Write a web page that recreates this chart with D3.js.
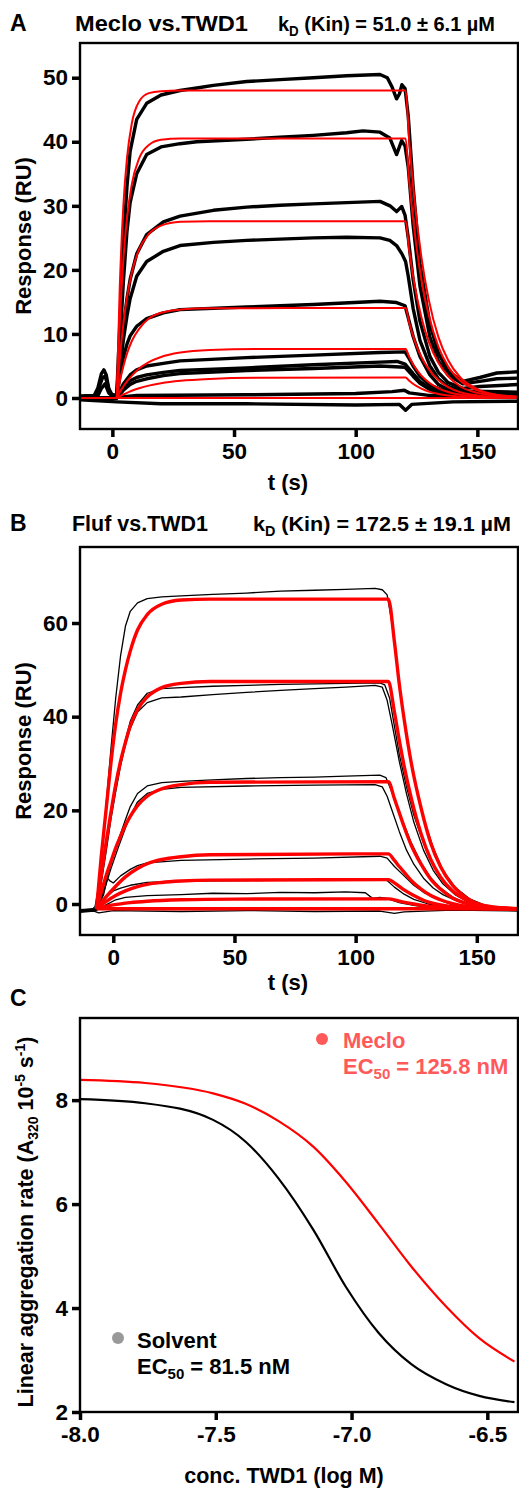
<!DOCTYPE html>
<html>
<head>
<meta charset="utf-8">
<script src="https://cdn.jsdelivr.net/npm/d3@7"></script>
<style>
body { margin: 0; background: #fff; }
svg text { font-family: "Liberation Sans", Arial, sans-serif; font-weight: bold; }
</style>
</head>
<body>
<svg id="fig" width="519" height="1489"></svg>
<script>
// ---- panel A: Meclo vs TWD1, sensorgrams [t (s), response (RU)]
var mecloData = [
	[[-13.3,0.3],[-7.5,0.4],[-6,1.5],[-4.5,3.8],[-3.5,4.4],[-2.5,3.6],[-1.5,1.5],[0,0.4],[1.8,0.5],[3,11],[4.5,24],[6,33],[7.3,38.5],[10,43.5],[14.1,46],[20,47.3],[27.8,48],[34.7,48.4],[41.5,48.8],[55.2,49.4],[68.9,49.7],[82.6,50],[96.3,50.3],[110,50.5],[113,50],[115,48.5],[116.8,46.7],[118,47.5],[119,48.9],[120.3,48.3],[121.6,44],[123.6,33],[126.4,21],[130.5,11.5],[134,7],[138,4.2],[144,2.6],[151,3.2],[158,3.9],[166.7,4.1]],
	[[-13.3,0.1],[-7,0.3],[-5.5,1.6],[-4,3.2],[-3,3.4],[-2,2.2],[-1,0.6],[1.8,0.3],[3,8],[4.5,18],[6,26],[7.3,30.5],[10,35],[14.1,38],[20,39.2],[27.8,39.7],[34.7,40],[55.2,40.4],[68.9,40.7],[82.6,41],[96.3,41.4],[103,41.7],[110,41.5],[114,40.6],[116.8,38],[118.9,40.2],[120.3,39.3],[121.6,36],[123.6,27],[126.4,17.5],[130.5,9.5],[134,5.8],[138,3.6],[144,2.2],[151,2.6],[158,3],[166.7,3.1]],
	[[-13.3,0],[-6,0.3],[-4.5,1.5],[-3,2.2],[-1.5,0.8],[1.8,0.2],[3,5],[4.5,11],[6,15.5],[7.3,18.5],[10,22.5],[14.1,25.5],[20.96,27.5],[27.8,28.4],[41.5,29.3],[55.2,29.8],[68.9,30.1],[82.6,30.3],[96.3,30.5],[110,30.7],[114.1,30],[116.8,29.1],[118.9,29.9],[120.3,28.5],[121.6,25],[123.6,18.5],[126.4,12],[130.5,6.5],[134,4],[138,2.4],[144,1.5],[151,1.8],[166.7,2.1]],
	[[-13.3,0],[1.8,0.1],[3,4],[4.5,9],[6,12.8],[7.3,15.5],[10,19],[14.1,21.3],[20.96,22.9],[27.8,23.8],[41.5,24.3],[55.2,24.6],[68.9,24.8],[82.6,25],[96.3,25.1],[110,25],[114,24.6],[116.8,23.8],[119,22.5],[120.5,21.3],[121.6,19],[123.6,14],[126.4,9],[130.5,5],[134,3],[138,1.8],[144,1.1],[166.7,0.9]],
	[[-13.3,0],[1.8,0],[3,3.2],[4.5,6.3],[6,8.4],[7.3,9.7],[10,11.2],[14.1,12.4],[20.96,13.3],[27.8,13.8],[55.2,14.2],[82.6,14.6],[110,15.1],[116.8,14.9],[120.3,14.4],[121.6,12.5],[123.6,9.6],[126.4,6.5],[130.5,3.6],[134,2.1],[138,1.3],[144,0.8],[166.7,0.7]],
	[[-13.3,0],[1.8,0],[4.5,2.2],[7.3,3.6],[10,4.4],[14.1,5],[20.96,5.4],[27.8,5.8],[55.2,6.3],[82.6,6.7],[110,7.1],[120.3,7.2],[121.6,6.4],[123.6,5],[126.4,3.4],[130.5,2],[138,0.9],[150,0.5],[166.7,0.5]],
	[[-13.3,0],[1.8,0],[4.5,1.6],[7.3,2.7],[10,3.2],[14.1,3.6],[20.96,4],[27.8,4.3],[55.2,4.7],[82.6,5.2],[110,5.6],[117,5.7],[120.3,5.3],[123.6,3.8],[126.4,2.6],[130.5,1.5],[138,0.6],[166.7,0.4]],
	[[-13.3,0],[1.8,0],[4.5,1.2],[7.3,2.1],[10,2.6],[14.1,3],[20.96,3.5],[27.8,3.8],[55.2,4.3],[82.6,4.6],[110,5],[120.3,4.8],[123.6,3.4],[126.4,2.3],[130.5,1.3],[138,0.5],[166.7,0.3]],
	[[-13.3,0],[1.8,0.1],[10,0.4],[55,0.5],[100,0.7],[115,1],[120,1.2],[122,0.8],[130,0.4],[166.7,0.4]],
	[[-13.3,-0.3],[1.8,-0.6],[20,-0.9],[55,-0.9],[100,-1.1],[118,-1],[120.5,-1.9],[123,-1],[140,-0.6],[166.7,-0.5]]
];
var mecloFit = [
	[[1.8,0],[3,16.8],[4.5,29.9],[6,37.4],[8,42.9],[11,46.3],[15,47.6],[20,47.9],[28,48],[120.5,48],[122,40.1],[124,31.5],[127,22],[130,15.4],[134,9.5],[138,5.9],[143,3.2],[150,1.4],[158,0.5],[166.7,0.2]],
	[[1.8,0],[3,11.5],[4.5,21.5],[6,28],[8,33.4],[11,37.4],[15,39.5],[20,40.3],[28,40.5],[120.5,40.5],[122,33.8],[124,26.6],[127,18.5],[130,13],[134,8],[138,4.9],[143,2.7],[150,1.2],[158,0.45],[166.7,0.16]],
	[[1.8,0],[3,5.9],[4.5,11.5],[6,15.7],[8,19.6],[11,23.2],[15,25.6],[20,26.9],[28,27.5],[40,27.6],[120.5,27.6],[122,23],[124,18.1],[127,12.6],[130,8.8],[134,5.5],[138,3.4],[143,1.8],[150,0.8],[158,0.3],[166.7,0.1]],
	[[1.8,0],[3,2.5],[4.5,4.9],[6,6.9],[8,8.9],[11,10.8],[15,12.4],[20,13.3],[28,13.8],[40,14],[120.5,14.05],[122,11.7],[124,9.2],[127,6.4],[130,4.5],[134,2.8],[138,1.7],[143,0.9],[150,0.4],[158,0.15],[166.7,0.06]],
	[[1.8,0],[3,0.86],[4.5,1.8],[6,2.6],[8,3.5],[11,4.6],[15,5.6],[20,6.4],[28,7.1],[40,7.5],[60,7.65],[120.5,7.65],[122,6.4],[124,5],[127,3.5],[130,2.45],[134,1.5],[138,0.93],[143,0.5],[150,0.22],[158,0.08],[166.7,0.03]],
	[[1.8,0],[3,0.26],[4.5,0.55],[6,0.81],[8,1.13],[11,1.52],[15,1.93],[20,2.3],[28,2.69],[40,2.98],[60,3.15],[120.5,3.2],[122,2.7],[124,2.1],[127,1.47],[130,1],[134,0.63],[138,0.39],[143,0.21],[150,0.09],[158,0.04],[166.7,0.01]],
	[[-13.3,0],[166.7,0]]
];

// ---- panel B: Fluf vs TWD1
var flufData = [
	[[-13.7,-1.5],[-11,-1.2],[-9,-1.3],[-7.5,-0.5],[-6,4],[-4.5,12],[-3,21],[-1,33],[1,44],[3,53],[5,59.3],[7,62.5],[10,64.3],[14,65.2],[20,65.6],[28,65.8],[41,66.1],[55,66.4],[69,66.8],[83,67],[96,67.2],[108,67.4],[111,67.1],[113,66],[115,60],[117,51],[119,43],[121,36],[124,27.5],[128,18.5],[132,12],[136,7.2],[141,3.6],[147,1.1],[153,-0.2],[160,-0.8],[167,-1.2]],
	[[-13.7,-1.3],[-7,-1],[-5,5],[-3,12],[-1,19],[1,25],[3,30.5],[5,35],[7,39],[10,42.5],[14,45],[20,46],[28,46.2],[41,46.5],[55,46.7],[69,46.9],[83,47],[96,47.1],[110,47.2],[112,46.8],[114,44],[116,38],[118,32],[121,25],[124,19],[128,13],[132,8.5],[136,5],[141,2.5],[147,0.5],[155,-0.6],[167,-1.1]],
	[[-13.7,-1.4],[-7,-1.1],[-5,4.5],[-3,11],[-1,18],[1,24],[3,29.5],[5,34],[7,37.5],[10,41],[14,43],[20,44],[28,44.2],[41,44.7],[55,45.2],[69,45.6],[83,46],[96,46.3],[108,46.7],[111,46.3],[113,43.5],[115,38.5],[118,30.5],[121,23.5],[124,17.5],[128,11.5],[132,7.2],[136,4.3],[141,2],[147,0.3],[155,-0.7],[167,-1.2]],
	[[-13.7,-1.2],[-7,-1],[-4,3],[-1,8.5],[2,13.5],[5,18],[7,20.8],[10,23.6],[14,25.2],[20,25.9],[28,26.2],[41,26.5],[55,26.8],[69,27],[83,27.1],[96,27.3],[110,27.5],[112.5,27],[114.5,24.5],[117,21],[120,17],[123,13],[127,8.8],[131,5.6],[135,3.4],[140,1.5],[146,0.1],[154,-0.8],[167,-1.2]],
	[[-13.7,-1.5],[-7,-1.2],[-4,2.5],[-1,7.5],[2,12],[5,16.2],[7,18.8],[10,21.8],[14,23.6],[20,24.5],[28,24.9],[55,25.2],[83,25.4],[108,25.5],[111,25],[113,23],[115,20],[118,15.5],[121,11.5],[124,8.5],[128,5.5],[132,3.4],[136,2],[141,0.8],[147,-0.3],[167,-1.3]],
	[[-13.7,-1.3],[-7,-1.2],[-4,2],[-2.5,5.5],[-1.5,5],[0,4.5],[3,6],[7,7.4],[10,8.2],[14,8.8],[28,9.3],[55,9.6],[83,9.8],[110,10.2],[113,9.8],[116,8],[120,6],[124,4],[128,2.5],[134,1],[140,-0.2],[150,-0.9],[167,-1.2]],
	[[-13.7,-1.5],[-7,-1.3],[-3,1.5],[0,2.8],[3,3.4],[7,4],[14,4.6],[28,4.9],[55,5],[83,5.2],[110,5.4],[113,5],[116,3.6],[120,2.1],[124,1],[130,0],[140,-0.8],[167,-1.3]],
	[[-13.7,-1.6],[-7,-1.4],[-3,-0.2],[1,0.9],[5,1.4],[14,1.8],[28,2],[41,2.3],[55,2.2],[69,2.5],[83,2.4],[96,2.6],[104,2.4],[107,1.2],[110,1.4],[113,1.2],[118,0.3],[124,-0.3],[130,-0.7],[140,-0.9],[167,-1.1]],
	[[-13.7,-1.8],[-8,-1.5],[-6,-1.9],[0,-1.4],[28,-1.6],[55,-1.4],[83,-1.6],[110,-1.5],[116,-2],[120,-1.7],[140,-1.3],[167,-1.5]]
];
var flufFit = [
	[[-6.9,-1],[-5,10],[-3,20],[-1,30],[1,38.5],[3,45],[5,50],[7,54],[10,58.5],[14,61.8],[20,64],[28,64.9],[40,65.1],[113.5,65.1],[116,56],[118,47],[120,39.5],[123,30],[127,20.5],[131,13],[135,8],[140,4],[146,1.2],[152,-0.2],[160,-0.8],[167,-1]],
	[[-6.9,-1],[-5,6],[-3,13],[-1,19.5],[1,25.5],[3,30.5],[5,34.5],[7,38],[10,41.5],[14,44.2],[20,46.2],[28,47.1],[40,47.5],[113.5,47.5],[116,41],[118,35],[120,29.5],[123,22.5],[127,15],[131,9.5],[135,5.8],[140,2.8],[146,0.8],[152,-0.4],[160,-0.9],[167,-1]],
	[[-6.9,-1],[-5,2.5],[-3,6],[-1,9],[1,12],[3,14.5],[5,16.8],[7,18.7],[10,21],[14,23],[20,24.6],[28,25.5],[40,26],[113.5,26.1],[116,22.5],[118,19.5],[120,16.5],[123,12.5],[127,8.5],[131,5.3],[135,3.2],[140,1.3],[146,0.1],[152,-0.6],[167,-1]],
	[[-6.9,-1],[-3,1.5],[1,3.8],[5,5.8],[10,7.6],[14,8.6],[20,9.5],[28,10.1],[40,10.5],[113.5,10.7],[116,9.3],[118,8],[120,6.8],[123,5],[127,3.2],[131,1.8],[135,0.9],[140,0.1],[146,-0.5],[155,-0.9],[167,-1]],
	[[-6.9,-1],[-3,0.5],[1,1.8],[5,2.8],[10,3.7],[14,4.2],[20,4.6],[28,4.9],[40,5.1],[113.5,5.2],[116,4.5],[120,3],[124,1.8],[128,0.8],[134,-0.1],[142,-0.7],[155,-1],[167,-1]],
	[[-6.9,-1],[0,-0.2],[7,0.3],[14,0.6],[28,0.9],[50,1.05],[113.5,1.1],[118,0.6],[124,0],[132,-0.6],[145,-0.95],[167,-1]],
	[[-6.9,-1],[167,-1]]
];

// ---- panel C: aggregation rate vs conc. TWD1 (log M)
var logConc = [-8.0, -7.76, -7.51, -7.39, -7.27, -7.14, -7.02, -6.90, -6.78, -6.65, -6.53, -6.40];
var rateMeclo = [8.39, 8.33, 8.13, 7.93, 7.60, 7.10, 6.42, 5.62, 4.80, 4.02, 3.42, 2.97];
var rateSolvent = [8.02, 7.94, 7.62, 7.20, 6.50, 5.50, 4.40, 3.52, 2.92, 2.53, 2.31, 2.19];

var tTicks = [0, 50, 100, 150];
var yTicksA = [0, 10, 20, 30, 40, 50];
var yTicksB = [0, 20, 40, 60];
var xTicksC = [-8.0, -7.5, -7.0, -6.5];
var yTicksC = [2, 4, 6, 8];

var font = "Liberation Sans, Arial, sans-serif";
var svg = d3.select("#fig");

function panel(id, box, xDom, yDom, xTicks, yTicks, xFmt) {
	var x = d3.scaleLinear().domain(xDom).range([box.left, box.right]);
	var y = d3.scaleLinear().domain(yDom).range([box.bottom, box.top]);

	svg.append("clipPath").attr("id", id)
	.append("rect")
	.attr("x", box.left).attr("y", box.top)
	.attr("width", box.right - box.left).attr("height", box.bottom - box.top);

	var plot = svg.append("g").attr("clip-path", "url(#" + id + ")");

	svg.append("g")
	.attr("transform", `translate(${box.left},0)`)
	.call(d3.axisLeft(y).tickValues(yTicks).tickSize(8).tickPadding(4))
	.call(g => g.select(".domain").remove())
	.call(g => g.selectAll(".tick line").attr("stroke-width", 3.5))
	.attr("font-family", font).attr("font-size", 22.5).attr("font-weight", "bold");

	svg.append("g")
	.attr("transform", `translate(0,${box.bottom})`)
	.call(d3.axisBottom(x).tickValues(xTicks).tickSize(8).tickPadding(6).tickFormat(xFmt))
	.call(g => g.select(".domain").remove())
	.call(g => g.selectAll(".tick line").attr("stroke-width", 3.5))
	.attr("font-family", font).attr("font-size", 22.5).attr("font-weight", "bold");

	svg.append("rect")
	.attr("x", box.left).attr("y", box.top)
	.attr("width", box.right - box.left).attr("height", box.bottom - box.top)
	.attr("fill", "none").attr("stroke", "#000").attr("stroke-width", 2.4);

	return {x: x, y: y, plot: plot};
}

function traces(p, sets, color, width, curve) {
	var line = d3.line().x(d => p.x(d[0])).y(d => p.y(d[1])).curve(curve);
	p.plot.append("g")
	.selectAll("path")
	.data(sets)
	.enter().append("path")
	.attr("d", line)
	.attr("fill", "none")
	.attr("stroke", color)
	.attr("stroke-width", width)
	.attr("stroke-linejoin", "round");
}

// panel letter, compound name and kD text, each fitted to the width seen in the figure
function title(letter, ly, name, nx, nw, kd, kx, kw) {
	svg.append("text").attr("x", 10).attr("y", ly).attr("font-size", 23).text(letter);
	svg.append("text").attr("x", nx).attr("y", ly).attr("font-size", 22.5)
	.attr("textLength", nw).attr("lengthAdjust", "spacingAndGlyphs").text(name);
	var t = svg.append("text").attr("x", kx).attr("y", ly).attr("font-size", 21)
	.attr("textLength", kw).attr("lengthAdjust", "spacingAndGlyphs");
	t.append("tspan").text("k");
	t.append("tspan").attr("font-size", 14).attr("dy", 5).text("D");
	t.append("tspan").attr("dy", -5).text(" " + kd);
}

// A
var pA = panel("clipA", {left: 80, right: 518, top: 43, bottom: 429}, [-13.3, 166.7], [-4.84, 55.42], tTicks, yTicksA, d3.format("d"));
traces(pA, mecloData, "#000", 3.4, d3.curveLinear);
traces(pA, mecloFit, "#ff0000", 2, d3.curveMonotoneX);
title("A", 31, "Meclo vs.TWD1", 75, 173, "(Kin) = 51.0 ± 6.1 µM", 278, 217);

svg.append("text").attr("x", 23).attr("y", 236)
.attr("transform", "rotate(-90,23,236)").attr("dy", "0.35em")
.attr("text-anchor", "middle").attr("font-size", 22).text("Response (RU)");
svg.append("text").attr("x", 288).attr("y", 490).attr("text-anchor", "middle").attr("font-size", 22).text("t (s)");

// B
var pB = panel("clipB", {left: 80, right: 518, top: 547, bottom: 935}, [-13.74, 167.0], [-6.62, 76.23], tTicks, yTicksB, d3.format("d"));
traces(pB, flufData, "#000", 1.3, d3.curveLinear);
traces(pB, flufFit, "#ff0000", 3.4, d3.curveMonotoneX);
title("B", 531, "Fluf vs.TWD1", 72, 136, "(Kin) = 172.5 ± 19.1 µM", 253, 258);

svg.append("text").attr("x", 23).attr("y", 741)
.attr("transform", "rotate(-90,23,741)").attr("dy", "0.35em")
.attr("text-anchor", "middle").attr("font-size", 22).text("Response (RU)");
svg.append("text").attr("x", 288).attr("y", 990).attr("text-anchor", "middle").attr("font-size", 22).text("t (s)");

// C
var pC = panel("clipC", {left: 80, right: 518, top: 1018, bottom: 1412}, [-8.0, -6.387], [2, 9.58], xTicksC, yTicksC, d => d.toFixed(1));
var curveC = d3.line().x((d, i) => pC.x(logConc[i])).y(d => pC.y(d)).curve(d3.curveMonotoneX);
pC.plot.append("path").attr("d", curveC(rateSolvent)).attr("fill", "none").attr("stroke", "#000").attr("stroke-width", 2.2);
pC.plot.append("path").attr("d", curveC(rateMeclo)).attr("fill", "none").attr("stroke", "#ff0000").attr("stroke-width", 2.2);

svg.append("text").attr("x", 10).attr("y", 1006).attr("font-size", 23).text("C");

// legend
svg.append("circle").attr("cx", 322).attr("cy", 1039).attr("r", 6).attr("fill", "#ff5a5a");
svg.append("text").attr("x", 343).attr("y", 1048).attr("font-size", 22).attr("fill", "#ff5a5a").text("Meclo");
var ec1 = svg.append("text").attr("x", 343).attr("y", 1074).attr("font-size", 22).attr("fill", "#ff5a5a");
ec1.append("tspan").text("EC");
ec1.append("tspan").attr("font-size", 15).attr("dy", 5).text("50");
ec1.append("tspan").attr("dy", -5).text(" = 125.8 nM");

svg.append("circle").attr("cx", 118).attr("cy", 1338).attr("r", 6).attr("fill", "#999");
svg.append("text").attr("x", 137).attr("y", 1348).attr("font-size", 22).text("Solvent");
var ec2 = svg.append("text").attr("x", 137).attr("y", 1374).attr("font-size", 22);
ec2.append("tspan").text("EC");
ec2.append("tspan").attr("font-size", 15).attr("dy", 5).text("50");
ec2.append("tspan").attr("dy", -5).text(" = 81.5 nM");

// y title C
var yt = svg.append("text").attr("transform", "translate(25,1222) rotate(-90)")
.attr("dy", "0.35em").attr("text-anchor", "middle").attr("font-size", 21.5);
yt.append("tspan").text("Linear aggregation rate (A");
yt.append("tspan").attr("font-size", 14).attr("dy", 5).text("320");
yt.append("tspan").attr("dy", -5).text(" 10");
yt.append("tspan").attr("font-size", 14).attr("dy", -8).text("-5");
yt.append("tspan").attr("dy", 8).text(" s");
yt.append("tspan").attr("font-size", 14).attr("dy", -8).text("-1");
yt.append("tspan").attr("dy", 8).text(")");

svg.append("text").attr("x", 284).attr("y", 1483).attr("text-anchor", "middle").attr("font-size", 21.5).text("conc. TWD1 (log M)");
</script>
</body>
</html>
